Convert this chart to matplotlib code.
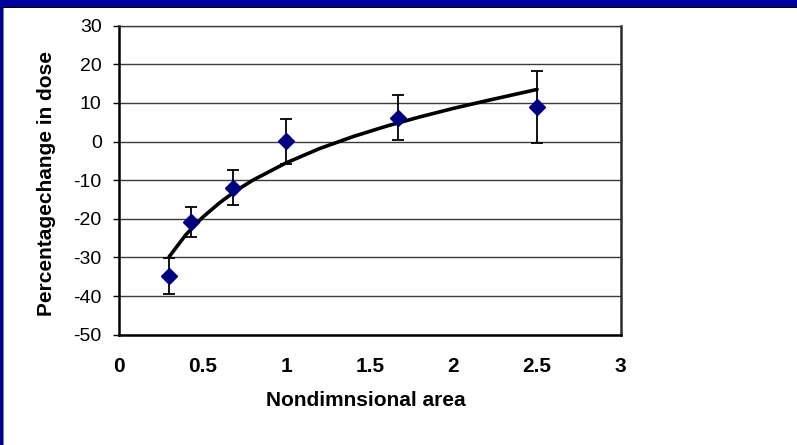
import numpy as np
import matplotlib
matplotlib.use('Agg')
import matplotlib.pyplot as plt
from matplotlib.patches import Rectangle

# データ
area = [0.3, 0.43, 0.68, 1.0, 1.67, 2.5]
dose_change = [-34.8, -20.9, -11.9, 0.1, 6.2, 9.0]
dose_err = [4.6, 3.9, 4.5, 5.8, 5.8, 9.3]

# 対数近似曲線
trend_x = [0.3, 0.4, 0.5, 0.6, 0.7, 0.8, 1.0, 1.2, 1.4, 1.6, 1.8, 2.0, 2.2, 2.5]
trend_y = [-29.8, -24.1, -19.6, -15.9, -12.7, -10.0, -5.5, -1.8, 1.3, 4.0, 6.4, 8.6, 10.6, 13.5]

x_ticks = [0, 0.5, 1, 1.5, 2, 2.5, 3]
x_tick_labels = ['0', '0.5', '1', '1.5', '2', '2.5', '3']
y_ticks = [-50, -40, -30, -20, -10, 0, 10, 20, 30]

plt.rcParams['font.family'] = ['Liberation Sans', 'DejaVu Sans']
plt.rcParams['axes.unicode_minus'] = False

fig = plt.figure(figsize=(7.97, 4.45), dpi=100)
W, H = 797, 445

# 枠の青い帯
fig.patches.append(Rectangle((0, 1 - 7 / H), 1, 7 / H, transform=fig.transFigure,
                             facecolor='#00009c', edgecolor='none', zorder=0))
fig.patches.append(Rectangle((0, 1 - 8 / H), 1, 1 / H, transform=fig.transFigure,
                             facecolor='black', edgecolor='none', zorder=0))
fig.patches.append(Rectangle((0, 0), 3 / W, 1, transform=fig.transFigure,
                             facecolor='#00009c', edgecolor='none', zorder=0))
fig.patches.append(Rectangle((3 / W, 0), 1 / W, 1 - 8 / H, transform=fig.transFigure,
                             facecolor='#808080', edgecolor='none', zorder=0))

ax = fig.add_axes([119 / W, 1 - 334.7 / H, 501.7 / W, 309 / H])

# グリッド
for yv in y_ticks:
    ax.axhline(yv, color='#3a3a3a', lw=1.0, zorder=1)

# 近似曲線
ax.plot(trend_x, trend_y, color='black', lw=2.6, zorder=3, solid_capstyle='round')

# エラーバー付きの点
ax.errorbar(area, dose_change, yerr=dose_err, fmt='D', color='#000080',
            markersize=8.5, ecolor='black', elinewidth=1.3, capsize=4.3,
            capthick=1.3, zorder=4)

ax.set_xlim(0, 3)
ax.set_ylim(-50, 30)
ax.set_xticks(x_ticks)
ax.set_xticklabels(x_tick_labels, fontweight='bold', fontsize=15)
ax.set_yticks(y_ticks)
ax.tick_params(axis='y', direction='out', length=4.5, width=1, pad=8, labelsize=14)
ax.tick_params(axis='x', length=0, pad=16)

for side in ['left', 'bottom']:
    ax.spines[side].set_color('black')
    ax.spines[side].set_linewidth(1.8)
ax.spines['top'].set_color('#3a3a3a')
ax.spines['top'].set_linewidth(1.0)
ax.spines['right'].set_color('#2a2a2a')
ax.spines['right'].set_linewidth(1.8)

# 軸ラベル
fig.text(366 / W, 1 - 401 / H, 'Nondimnsional area', fontweight='bold', fontsize=15,
         ha='center', va='center')
fig.text(47 / W, 1 - 183 / H, 'Percentagechange in dose', fontweight='bold', fontsize=15,
         ha='center', va='center', rotation=90)

fig.savefig('out.png', dpi=100)
